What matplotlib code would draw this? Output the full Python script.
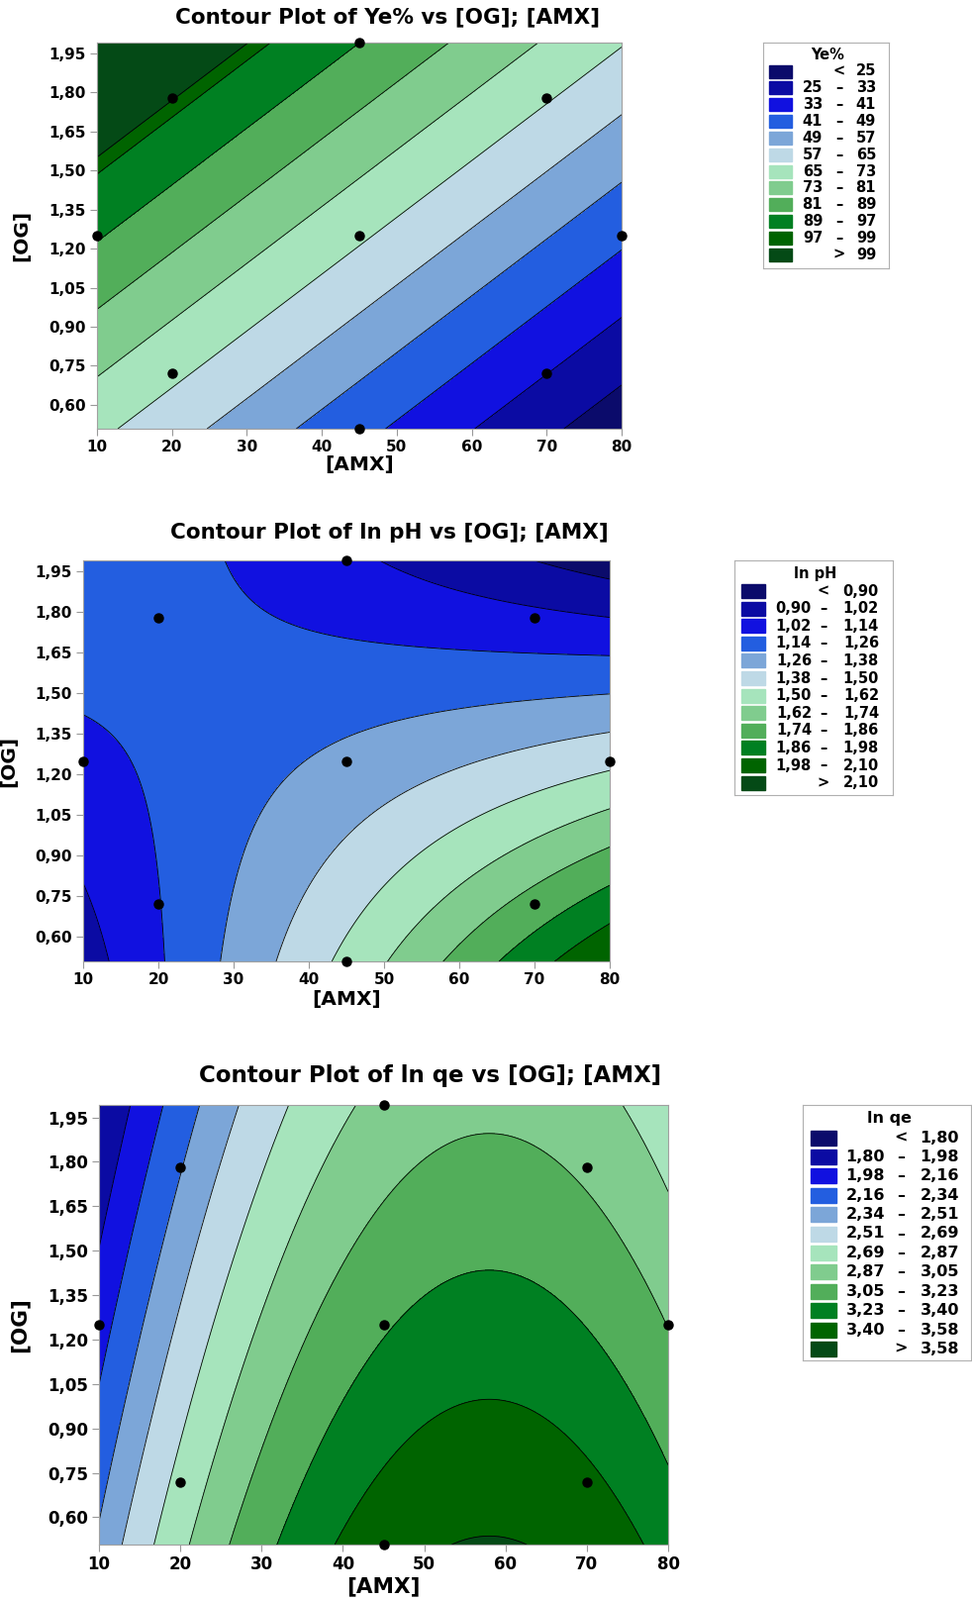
#!/usr/bin/env python3
"""Contour plots of Ye%, ln pH and ln qe over [OG] and [AMX] (CCD response surfaces)."""

import matplotlib

matplotlib.use("Agg")
import matplotlib.pyplot as plt
import numpy as np
from matplotlib.patches import Rectangle

plt.rcParams["font.family"] = ["DejaVu Sans"]
plt.rcParams["font.weight"] = "bold"

W, H = 982, 1616

# central composite design points (the black dots)
AMX_PTS = [20, 70, 20, 70, 10, 80, 45, 45, 45]
OG_PTS = [0.72, 0.72, 1.78, 1.78, 1.25, 1.25, 0.508, 1.992, 1.25]

# response at each design point
YE_PTS = [66.68, 33.08, 99.32, 65.72, 89.72, 42.68, 43.35, 89.05, 66.20]
LNPH_PTS = [1.1356, 1.7884, 1.1822, 1.0478, 1.1071, 1.4699, 1.5314, 1.0456, 1.2885]
LNQE_PTS = [2.7432, 3.4322, 2.3298, 3.0188, 2.0807, 3.0453, 3.5017, 2.9229, 3.2123]

YE_BOUNDS = [25, 33, 41, 49, 57, 65, 73, 81, 89, 97, 99]
LNPH_BOUNDS = [0.90, 1.02, 1.14, 1.26, 1.38, 1.50, 1.62, 1.74, 1.86, 1.98, 2.10]
LNQE_BOUNDS = [1.80, 1.98, 2.16, 2.34, 2.51, 2.69, 2.87, 3.05, 3.23, 3.40, 3.58]

COLORS = ["#0b0b6b", "#0b0ba3", "#1111e0", "#235ee0", "#7ca6d8", "#bed9e6",
          "#a6e4bc", "#80cc8e", "#52ae5a", "#008022", "#006400", "#044a16"]

X_TICKS = [10, 20, 30, 40, 50, 60, 70, 80]
Y_TICKS = [0.60, 0.75, 0.90, 1.05, 1.20, 1.35, 1.50, 1.65, 1.80, 1.95]


def fx(px):
    return px / W


def fy(py):
    return 1 - py / H


def quad_terms(x, y):
    a = (np.asarray(x, dtype=float) - 45) / 25
    b = (np.asarray(y, dtype=float) - 1.25) / 0.53
    return np.stack([np.ones_like(a), a, b, a * a, b * b, a * b], axis=-1)


def quad_fit(values):
    X = quad_terms(AMX_PTS, OG_PTS)
    coef, *_ = np.linalg.lstsq(X, np.array(values), rcond=None)
    return coef


def comma(v, dec):
    return f"{v:.{dec}f}".replace(".", ",")


def panel(fig, box, values, bounds, title, title_xy, xlab_y, ylab_x, fs, tfs, lfs):
    x0, y0, x1, y1 = box
    ax = fig.add_axes([fx(x0), fy(y1), fx(x1 - x0), (y1 - y0) / H])
    xs = np.linspace(10, 80, 300)
    ys = np.linspace(0.508, 1.992, 300)
    xx, yy = np.meshgrid(xs, ys)
    zz = quad_terms(xx, yy) @ quad_fit(values)
    levels = [-1e6] + bounds + [1e6]
    ax.contourf(xx, yy, zz, levels=levels, colors=COLORS)
    ax.contour(xx, yy, zz, levels=bounds, colors="black", linewidths=0.6)
    ax.plot(AMX_PTS, OG_PTS, "o", color="black", ms=6.5, clip_on=False, zorder=5)
    ax.set_xlim(10, 80)
    ax.set_ylim(0.508, 1.992)
    ax.set_xticks(X_TICKS)
    ax.set_xticklabels([str(t) for t in X_TICKS])
    ax.set_yticks(Y_TICKS)
    ax.set_yticklabels([comma(t, 2) for t in Y_TICKS])
    ax.tick_params(length=5, color="#999999", labelsize=fs, pad=3)
    for sp in ax.spines.values():
        sp.set_color("#a0a0a0")
    fig.text(fx(title_xy[0]), fy(title_xy[1]), title, ha="center", va="center",
             fontsize=tfs)
    fig.text(fx((x0 + x1) / 2), fy(xlab_y), "[AMX]", ha="center", va="center",
             fontsize=lfs)
    fig.text(fx(ylab_x), fy((y0 + y1) / 2), "[OG]", ha="center", va="center",
             rotation=90, fontsize=lfs)
    return ax


def legend(fig, box, title, bounds, dec, row0, dy, sw, sh, lo_r, dash_x, hi_r, fs):
    x0, y0, x1, y1 = box
    lax = fig.add_axes([fx(x0), fy(y1), fx(x1 - x0), (y1 - y0) / H])
    lax.set_xlim(x0, x1)
    lax.set_ylim(y1, y0)
    lax.set_xticks([])
    lax.set_yticks([])
    for sp in lax.spines.values():
        sp.set_color("#b0b0b0")
    lax.text((sw[0] + hi_r) / 2 + 5, row0 - dy * 1.0, title, ha="center", va="center",
             fontsize=fs)
    labels = [comma(v, dec) for v in bounds]
    for i, col in enumerate(COLORS):
        y = row0 + i * dy
        lax.add_patch(Rectangle((sw[0], y - sh / 2), sw[1] - sw[0], sh, color=col))
        if i == 0:
            lax.text(dash_x, y, "<", ha="center", va="center", fontsize=fs)
            lax.text(hi_r, y, labels[0], ha="right", va="center", fontsize=fs)
        elif i == len(COLORS) - 1:
            lax.text(dash_x, y, ">", ha="center", va="center", fontsize=fs)
            lax.text(hi_r, y, labels[-1], ha="right", va="center", fontsize=fs)
        else:
            lax.text(lo_r, y, labels[i - 1], ha="right", va="center", fontsize=fs)
            lax.text(dash_x, y, "\u2013", ha="center", va="center", fontsize=fs)
            lax.text(hi_r, y, labels[i], ha="right", va="center", fontsize=fs)


def main():
    fig = plt.figure(figsize=(W / 100, H / 100), dpi=100)

    panel(fig, (98, 43, 628, 433), YE_PTS, YE_BOUNDS,
          "Contour Plot of Ye% vs [OG]; [AMX]", (392, 17), 469, 22, 11, 15.5, 14.5)
    legend(fig, (771, 43, 898, 271), "Ye%", YE_BOUNDS, 0,
           72, 16.85, (777, 800), 13, 831, 848, 885, 10.5)

    panel(fig, (84, 566, 616, 971), LNPH_PTS, LNPH_BOUNDS,
          "Contour Plot of ln pH vs [OG]; [AMX]", (393, 538), 1010, 9, 11, 15.5, 14.5)
    legend(fig, (742, 566, 902, 803), "ln pH", LNPH_BOUNDS, 2,
           597, 17.6, (749, 773), 14, 820, 832, 888, 10.5)

    panel(fig, (100, 1116, 675, 1560), LNQE_PTS, LNQE_BOUNDS,
          "Contour Plot of ln qe vs [OG]; [AMX]", (435, 1087), 1602, 19, 12, 16.5, 15.5)
    legend(fig, (811, 1116, 981, 1374), "ln qe", LNQE_BOUNDS, 2,
           1149, 19.4, (819, 845), 15, 894, 910, 969, 11.5)

    fig.savefig("out.png", dpi=100)
    plt.close(fig)
    return 0


if __name__ == "__main__":
    raise SystemExit(main())
